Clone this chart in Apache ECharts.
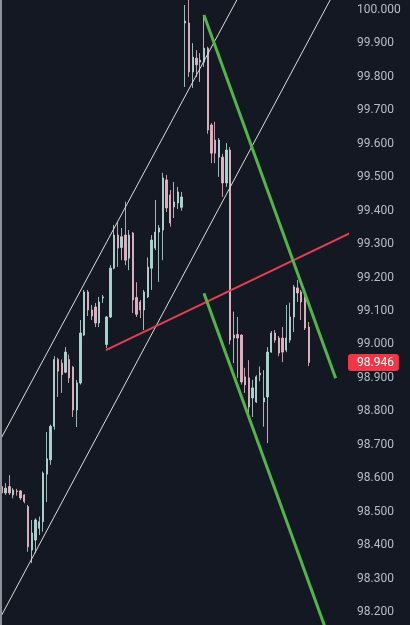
<!DOCTYPE html>
<html>
<head>
<meta charset="utf-8">
<script src="https://cdn.jsdelivr.net/npm/echarts@6/dist/echarts.min.js"></script>
<style>
  html, body { margin: 0; padding: 0; background: #141823; }
  #chart { width: 410px; height: 625px; }
</style>
</head>
<body>
<div id="chart"></div>
<script>
// candles, oldest first
const opens = [98.575, 98.556, 98.575, 98.550, 98.562, 98.562, 98.550, 98.515, 98.385, 98.415,
  98.450, 98.470, 98.612, 98.655, 98.755, 98.955, 98.944, 98.917, 98.955, 98.932,
  98.804, 98.885, 99.028, 99.157, 99.103, 99.112, 99.064, 99.139, 99.000, 99.082,
  99.228, 99.327, 99.290, 99.327, 99.258, 99.333, 99.140, 99.127, 99.103, 99.142,
  99.228, 99.288, 99.336, 99.342, 99.492, 99.447, 99.411, 99.423, 99.410, 99.961,
  99.961, 99.815, 99.856, 99.844, 99.844, 99.886, 99.656, 99.611, 99.560, 99.560,
  99.483, 99.581, 99.019, 99.030, 99.028, 98.903, 98.900, 98.840, 98.828, 98.909,
  98.828, 98.843, 98.977, 99.034, 99.019, 99.019, 98.983, 99.013, 99.082, 99.169,
  99.157, 99.142, 99.052];
const closes = [98.556, 98.570, 98.556, 98.565, 98.560, 98.541, 98.530, 98.395, 98.436, 98.475,
  98.470, 98.615, 98.658, 98.755, 98.955, 98.920, 98.910, 98.977, 98.900, 98.804,
  98.885, 99.034, 99.157, 99.103, 99.085, 99.064, 99.127, 99.142, 99.082, 99.228,
  99.327, 99.288, 99.322, 99.252, 99.327, 99.133, 99.090, 99.103, 99.157, 99.231,
  99.312, 99.336, 99.348, 99.498, 99.408, 99.363, 99.426, 99.456, 99.441, 99.967,
  99.815, 99.859, 99.836, 99.850, 99.886, 99.641, 99.572, 99.572, 99.611, 99.483,
  99.581, 99.013, 99.028, 99.019, 98.888, 98.879, 98.813, 98.870, 98.903, 98.914,
  98.840, 98.977, 99.034, 99.013, 98.974, 98.977, 99.019, 99.082, 99.172, 99.154,
  99.127, 99.049, 98.946];
const lows = [98.547, 98.550, 98.550, 98.540, 98.548, 98.535, 98.525, 98.380, 98.346, 98.376,
  98.430, 98.440, 98.529, 98.640, 98.745, 98.843, 98.855, 98.914, 98.885, 98.783,
  98.753, 98.880, 99.025, 99.085, 99.073, 99.052, 99.052, 99.124, 98.989, 99.079,
  99.225, 99.232, 99.252, 99.237, 99.222, 99.094, 99.082, 99.079, 99.043, 99.139,
  99.163, 99.282, 99.187, 99.252, 99.396, 99.352, 99.378, 99.405, 99.400, 99.770,
  99.800, 99.767, 99.800, 99.785, 99.830, 99.630, 99.542, 99.542, 99.501, 99.441,
  99.471, 99.000, 98.944, 98.900, 98.880, 98.855, 98.783, 98.783, 98.825, 98.890,
  98.754, 98.705, 98.975, 99.005, 98.965, 98.947, 98.977, 99.005, 99.037, 99.127,
  99.073, 99.043, 98.935];
const highs = [98.604, 98.585, 98.609, 98.570, 98.568, 98.565, 98.552, 98.520, 98.475, 98.480,
  98.485, 98.620, 98.738, 98.760, 98.965, 98.960, 98.955, 98.992, 98.970, 98.935,
  98.894, 99.073, 99.163, 99.163, 99.118, 99.124, 99.142, 99.148, 99.085, 99.237,
  99.357, 99.367, 99.348, 99.427, 99.342, 99.336, 99.186, 99.133, 99.163, 99.260,
  99.327, 99.432, 99.357, 99.513, 99.507, 99.462, 99.486, 99.471, 99.456, 100.015,
  100.050, 99.901, 99.880, 99.871, 99.985, 99.890, 99.662, 99.666, 99.617, 99.570,
  99.602, 99.590, 99.098, 99.082, 99.030, 98.930, 98.953, 98.894, 98.908, 98.934,
  98.923, 98.992, 99.040, 99.043, 99.025, 99.052, 99.118, 99.125, 99.178, 99.193,
  99.163, 99.163, 99.067];

// empty bars to the right of the last candle
const barCount = 93;
const categories = Array.from({ length: barCount }, (_, i) => String(i + 1));

// drawn lines: [bar index, price]
const upperChannel = [[-1.8, 98.686], [65.0, 100.076]];
const lowerChannel = [[-1.8, 98.154], [90.4, 100.086]];
const redLine = [[27.8, 98.983], [95.7, 99.347]];
const greenUpper = [[54.0, 99.985], [89.2, 98.899]];
const greenLower = [[54.0, 99.153], [87.7, 98.113]];

const lastPrice = closes[closes.length - 1];

const candles = opens.map((o, i) => [o, closes[i], lows[i], highs[i]]);

function trendLine(data, color, width) {
  return {
    type: 'line',
    xAxisIndex: 1,
    data: data,
    showSymbol: false,
    symbol: 'none',
    clip: true,
    silent: true,
    lineStyle: { color: color, width: width },
    z: 5
  };
}

const myChart = echarts.init(document.getElementById('chart'));
const option = {
  backgroundColor: '#141823',
  animation: false,
  grid: { left: 0, right: 62, top: -23.44, bottom: -20.4, outerBoundsMode: 'none', containLabel: false },
  graphic: [{
    type: 'rect',
    left: 0, top: 0,
    shape: { width: 2, height: 625 },
    style: { fill: '#8d9096' },
    z: 100
  }],
  xAxis: [{
    type: 'category',
    data: categories,
    boundaryGap: true,
    show: false
  }, {
    type: 'value',
    min: -0.5,
    max: barCount - 0.5,
    show: false
  }],
  yAxis: {
    type: 'value',
    position: 'right',
    min: 98.1,
    max: 100.1,
    interval: 0.1,
    axisLine: { show: false },
    axisTick: { show: false },
    splitLine: { show: false },
    axisLabel: {
      margin: 9,
      color: '#b9bcc3',
      fontSize: 12,
      fontFamily: 'Roboto',
      formatter: v => v.toFixed(3)
    },
    axisPointer: {
      show: true,
      status: 'show',
      value: lastPrice,
      triggerTooltip: false,
      lineStyle: { opacity: 0 },
      label: {
        show: true,
        margin: 0,
        formatter: p => p.value.toFixed(3),
        backgroundColor: '#f23645',
        color: '#ffffff',
        fontSize: 12,
        fontFamily: 'Roboto',
        padding: [3, 5, 2, 9]
      }
    }
  },
  series: [
    {
      type: 'candlestick',
      data: candles,
      barWidth: 1.8,
      itemStyle: {
        color: '#a3d6cf',
        color0: '#e8adbd',
        borderColor: '#bfe3de',
        borderColor0: '#efc2cd',
        borderWidth: 0.8
      },
      z: 3
    },
    trendLine(upperChannel, '#dcdcdc', 1),
    trendLine(lowerChannel, '#dcdcdc', 1),
    trendLine(redLine, '#e2404f', 2),
    trendLine(greenUpper, '#52b548', 3),
    trendLine(greenLower, '#52b548', 3)
  ]
};
option && myChart.setOption(option);
</script>
</body>
</html>
